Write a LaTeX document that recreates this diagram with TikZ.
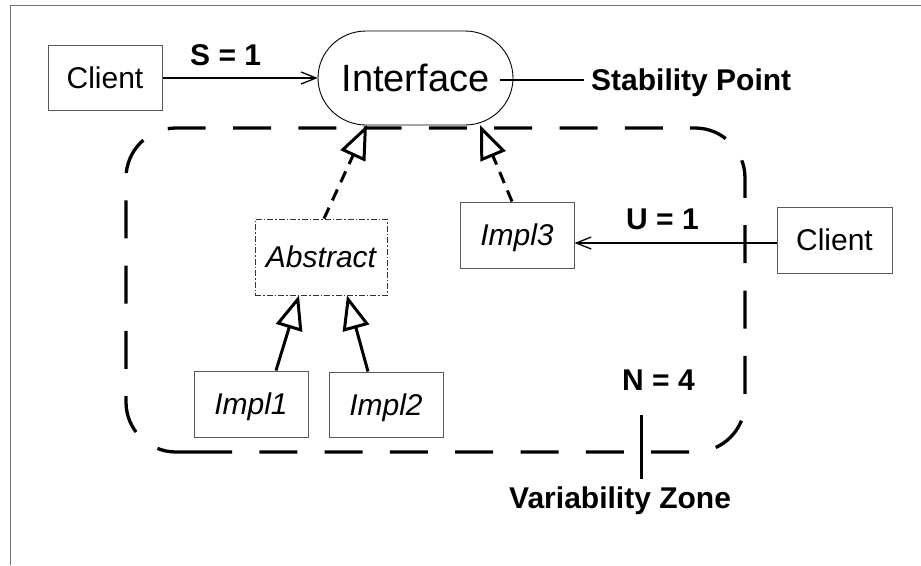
\documentclass[tikz,border=0pt]{standalone}
\usepackage{fontspec}
\setmainfont{Liberation Sans}
\usetikzlibrary{arrows.meta}
\begin{document}
\begin{tikzpicture}[x=1pt,y=-1pt,
  box/.style={draw=black!65, line width=1pt, rectangle, minimum width=114pt, minimum height=65pt, inner sep=0pt,
    font=\fontsize{30pt}{36pt}\selectfont, text height=21.5pt, text depth=0pt},
  ibox/.style={box, font=\fontsize{30pt}{36pt}\selectfont\itshape},
  lbl/.style={inner sep=0pt, anchor=base west, font=\fontsize{30pt}{36pt}\selectfont\bfseries},
  inh/.style={line width=3pt, -{Triangle[length=34pt,width=27pt,fill=white,line width=3pt]}},
  inhd/.style={inh, dash pattern=on 12pt off 8pt},
  uses/.style={line width=1.3pt, -{Straight Barb[length=15pt,width=12pt]}},
  zone/.style={line width=3.3pt, dash pattern=on 38pt off 27.3pt, rounded corners=50pt},
]
\useasboundingbox (0,0) rectangle (921,565);
% frame
\draw[black!55, line width=1.3pt] (10.5,565) -- (10.5,5.5) -- (921,5.5);

% variability zone
\draw[zone] (194,452) -- (745,452) -- (745,128) -- (126,128) -- (126,452) -- (194,452);

% interface
\node[minimum width=195pt, minimum height=94pt, inner sep=0pt,
  font=\fontsize{38pt}{44pt}\selectfont, text height=27.2pt, text depth=0pt] (iface) at (415.5,78) {Interface};
\draw[line width=0.9pt] (366,31) -- (465,31) arc[start angle=-90, end angle=90, x radius=48, y radius=47]
  -- (366,125) arc[start angle=90, end angle=270, x radius=48, y radius=47] -- cycle;

% boxes
\node[box] (client1) at (105,78) {Client};
\node[box, minimum width=115pt, minimum height=66pt] (client2) at (834.5,240) {Client};
\node[ibox, minimum width=132pt, minimum height=76pt, draw=black!80, line width=0.8pt,
  dash pattern=on 6pt off 2pt on 1.5pt off 2pt] (abstract) at (321,257) {Abstract};
\node[ibox, minimum height=66pt] (impl1) at (251,404) {Impl1};
\node[ibox] (impl2) at (386,404.5) {Impl2};
\node[ibox, minimum height=66pt] (impl3) at (517,235) {Impl3};

% labels
\node[lbl] (s1) at (190,65.5) {S = 1};
\node[lbl] (u1) at (626,229) {U = 1};
\node[lbl] (n4) at (622,390) {N = 4};
\node[lbl] (stab) at (591,90) {Stability Point};
\node[lbl] (varz) at (509,508) {Variability Zone};

% connectors
\draw[uses] (client1.east) -- (iface.west);
\draw[uses] ([yshift=-3pt]client2.west) coordinate (u) -- (u -| impl3.east);

\coordinate (ib1) at (367,125);
\coordinate (ib2) at (480,125);
\draw[inhd] ([xshift=3pt]abstract.north) -- (ib1);
\draw[inhd] ([xshift=-5pt]impl3.north) -- (ib2);
\draw[inh] ([xshift=25pt]impl1.north) -- ([xshift=-22pt]abstract.south);
\draw[inh] ([xshift=-18pt]impl2.north) -- ([xshift=26pt]abstract.south);

% stability point line
\coordinate (sp0) at (500,80);
\coordinate (sp1) at (584,80);
\draw[line width=2.8pt] (sp0) -- (sp1);

% variability zone marker
\coordinate (nz0) at (641,415);
\coordinate (nz1) at (641,479);
\draw[line width=3pt] (nz0) -- (nz1);
\end{tikzpicture}
\end{document}
